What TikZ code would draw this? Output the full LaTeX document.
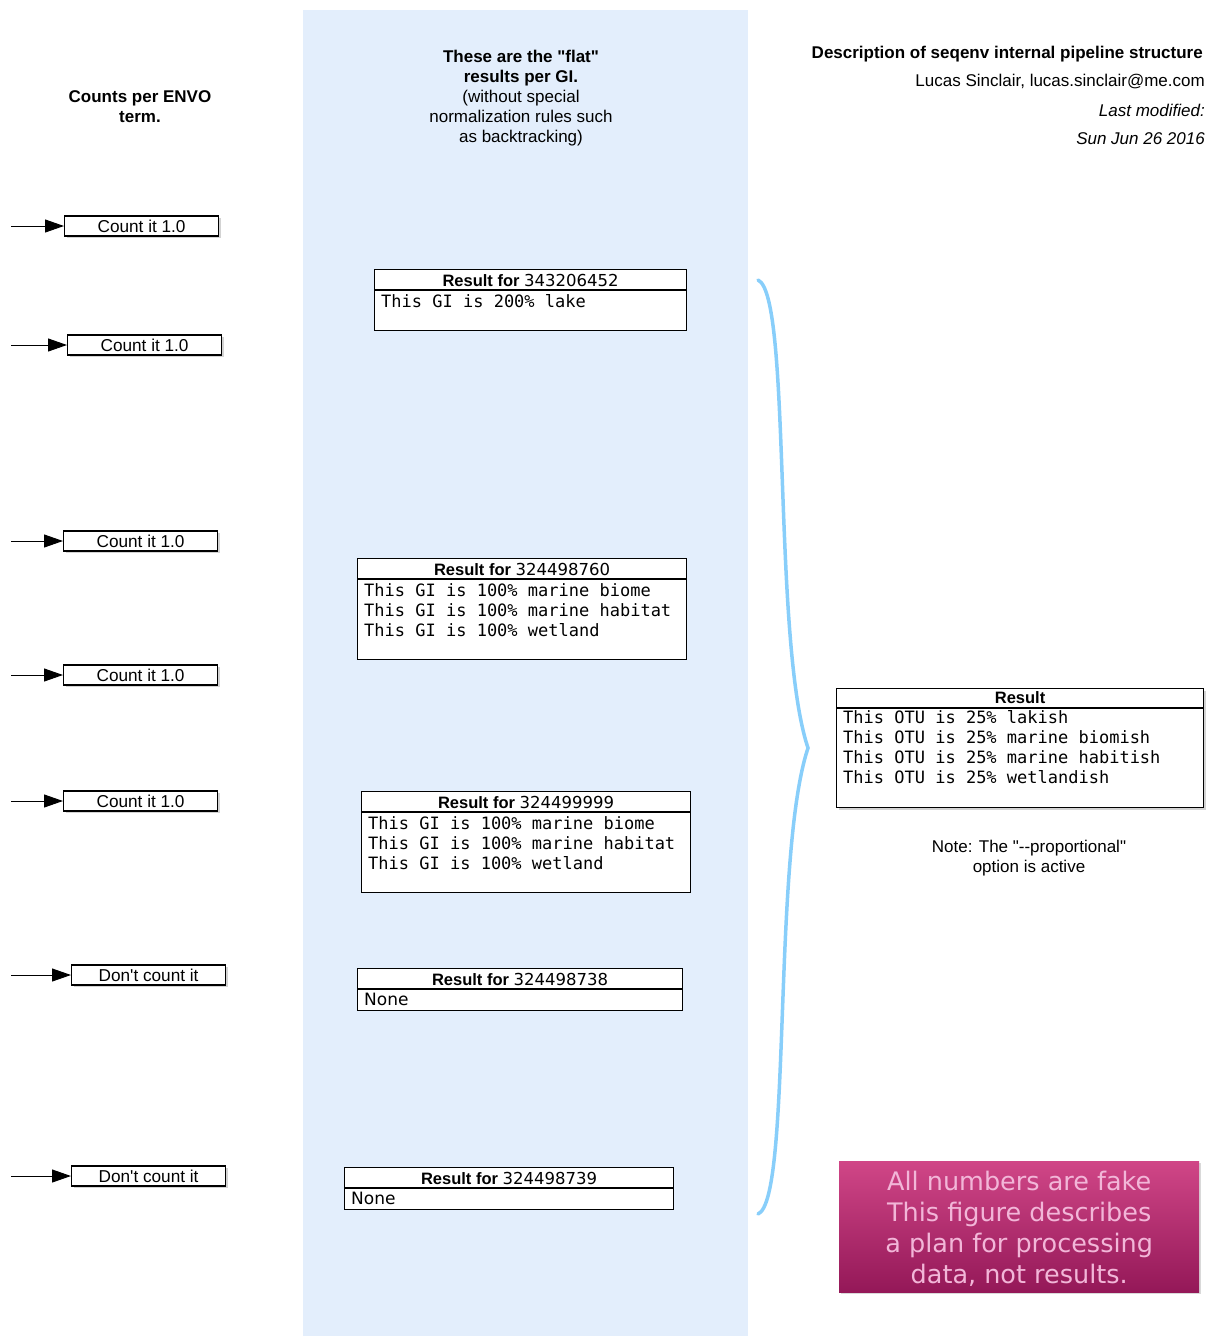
\documentclass[tikz,border=0pt]{standalone}
\usepackage{fontspec}
\setmainfont{Liberation Sans}[Ligatures=TeXOff]
\newfontfamily\monofont{DejaVu Sans Mono}
\newfontfamily\verdfont{DejaVu Sans}
\usetikzlibrary{arrows.meta,shadows}

\definecolor{bandblue}{RGB}{227,238,252}
\definecolor{bracecol}{RGB}{136,206,250}
\definecolor{pinktop}{RGB}{208,70,135}
\definecolor{pinkbot}{RGB}{148,24,88}
\definecolor{pinktext}{RGB}{242,182,216}

\tikzset{
    countbox/.style={draw, line width=1.2pt, fill=white, minimum width=154pt,
        minimum height=20pt, inner sep=0pt, font=\fontsize{17.2}{19}\selectfont,
        drop shadow={shadow xshift=2pt, shadow yshift=-2pt, opacity=0.35}},
    feed/.style={-{Triangle[length=19pt,width=13pt]}, line width=1pt},
    resbox/.style={draw, line width=1.2pt, fill=white, inner sep=0pt},
    reshead/.style={font=\fontsize{16.5}{20}\selectfont, inner sep=0pt},
    resbody/.style={anchor=north west, align=left, inner sep=1pt,
        font=\monofont\fontsize{17}{20}\selectfont},
    headtext/.style={align=center, inner sep=0pt, font=\fontsize{17}{20}\selectfont},
}

\begin{document}
\begin{tikzpicture}[x=1pt, y=-1pt]

    \useasboundingbox (0,0) rectangle (1216,1336);

    % blue band
    \fill[bandblue] (303,10) rectangle (748,1336);

    % titles
    \node[headtext] (lefthead) at (140,107) {\textbf{Counts per ENVO}\\\textbf{term.}};
    \node[headtext] (midhead) at (521,98) {\textbf{These are the "flat"}\\\textbf{results per GI.}\\(without special\\normalization rules such\\as backtracking)};
    \node[headtext, anchor=east] (title) at (1203,54) {\textbf{Description of seqenv internal pipeline structure}};
    \node[headtext, anchor=east] (author) at (1205,82) {Lucas Sinclair, lucas.sinclair@me.com};
    \node[headtext, anchor=east] (modif) at (1205,110) {\textit{Last modified:}};
    \node[headtext, anchor=east] (date) at (1205,139) {\textit{Sun Jun 26 2016}};

    % counts per term
    \foreach \i/\x/\y/\lbl in {1/64/226/Count it 1.0, 2/67/345/Count it 1.0,
        3/63/541/Count it 1.0, 4/63/675/Count it 1.0, 5/63/801/Count it 1.0,
        6/71/975/Don't count it, 7/71/1176/Don't count it} {
        \node[countbox, anchor=west] (c\i) at (\x,\y) {\lbl};
        \coordinate (s\i) at (11,\y);
        \draw[feed] (s\i) -- (c\i.west);
    }

    % flat results per GI
    \foreach \i/\x/\y/\w/\h/\id/\body in {
        1/374/269/312/61/343206452/{This GI is 200\% lake},
        2/357/558/329/101/324498760/{This GI is 100\% marine biome\\This GI is 100\% marine habitat\\This GI is 100\% wetland},
        3/361/791/329/101/324499999/{This GI is 100\% marine biome\\This GI is 100\% marine habitat\\This GI is 100\% wetland},
        4/357/968/325/42/324498738/{\verdfont None},
        5/344/1167/329/42/324498739/{\verdfont None}} {
        \node[resbox, anchor=north west, minimum width=\w pt, minimum height=\h pt] (r\i) at (\x,\y) {};
        \draw[line width=1.2pt] ([yshift=-21pt]r\i.north west) -- ([yshift=-21pt]r\i.north east);
        \node[reshead] (rh\i) at ([yshift=-11pt]r\i.north) {\textbf{Result for} {\verdfont\id}};
        \node[resbody] (rb\i) at ([xshift=6pt,yshift=-24pt]r\i.north west) {\body};
    }

    % brace
    \draw[bracecol, line width=3.5pt, line cap=round]
        (758,280) .. controls (792,295) and (772,640) .. (808,748)
        .. controls (772,856) and (792,1200) .. (758,1214);

    % final result
    \node[resbox, anchor=north west, minimum width=367pt, minimum height=119pt,
        drop shadow={shadow xshift=2pt, shadow yshift=-2pt, opacity=0.35}] (fin) at (836,688) {};
    \draw[line width=1.2pt] ([yshift=-20pt]fin.north west) -- ([yshift=-20pt]fin.north east);
    \node[reshead] (finhead) at ([yshift=-10pt]fin.north) {\textbf{Result}};
    \node[resbody] (finbody) at ([xshift=6pt,yshift=-21pt]fin.north west)
        {This OTU is 25\% lakish\\This OTU is 25\% marine biomish\\This OTU is 25\% marine habitish\\This OTU is 25\% wetlandish};

    \node[headtext] (note) at (1029,858) {Note: The "--proportional"\\option is active};

    % warning
    \node[anchor=north west, minimum width=360pt, minimum height=131pt, inner sep=0pt,
        top color=pinktop, bottom color=pinkbot,
        drop shadow={shadow xshift=2pt, shadow yshift=-2pt, opacity=0.3}] (fake) at (839,1161) {};
    \node[align=center, text=pinktext, inner sep=0pt,
        font=\verdfont\fontsize{25.5}{31}\selectfont] (faketext) at ([yshift=-2pt]fake.center)
        {All numbers are fake\\This figure describes\\a plan for processing\\data, not results.};

\end{tikzpicture}
\end{document}
